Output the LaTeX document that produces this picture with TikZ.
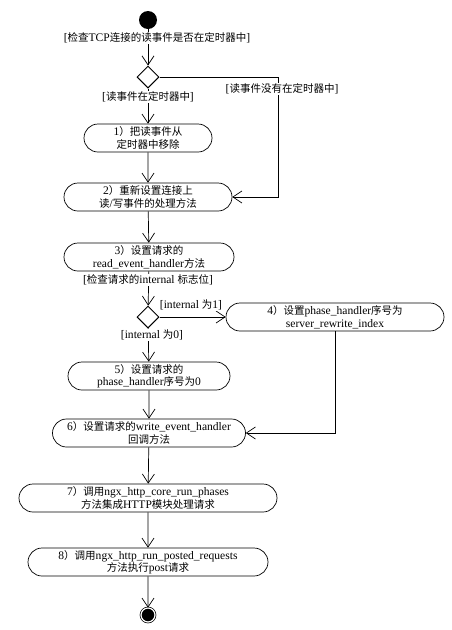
\documentclass[tikz,border=0pt]{standalone}
\usepackage{fontspec}
\setmainfont{Liberation Serif}[Scale=1.1]
\newfontfamily\zhfont{Noto Sans CJK SC}
\newcommand{\zh}[1]{{\zhfont #1}}
\usepackage{tikz}
\usetikzlibrary{shapes,positioning,calc,arrows.meta}

\begin{document}
\begin{tikzpicture}[x=1pt, y=-1pt,
        font=\fontsize{10.5}{12.5}\selectfont,
        act/.style={rounded rectangle, draw, line width=0.7pt, minimum height=28pt, inner sep=1pt, align=center},
        choice/.style={diamond, draw, line width=1pt, minimum width=22pt, minimum height=22pt, inner sep=0pt},
        guard/.style={fill=white, inner sep=1pt},
        flow/.style={-{Straight Barb[length=9pt,width=12pt]}, line width=0.7pt}]

        \useasboundingbox (0,0) rectangle (452,630);

        \node[circle, fill=black, minimum size=18pt, inner sep=0pt] (start) at (148,20) {};
        \node[choice] (timer check) at (148,77) {};
        \node[act, minimum width=130pt] (remove timer) at (148,138) {1\zh{）把读事件从}\\\zh{定时器中移除}};
        \node[act, minimum width=170pt] (reset handlers) at (148,197) {2\zh{）重新设置连接上}\\\zh{读}/\zh{写事件的处理方法}};
        \node[act, minimum width=172pt] (read handler) at (149,257) {3\zh{）设置请求的}\\read\_event\_handler\zh{方法}};
        \node[choice] (internal check) at (148,317) {};
        \node[act, minimum width=220pt] (rewrite index) at (335,317) {4\zh{）设置}phase\_handler\zh{序号为}\\server\_rewrite\_index};
        \node[act, minimum width=164pt] (phase zero) at (149,376) {5\zh{）设置请求的}\\phase\_handler\zh{序号为}0};
        \node[act, minimum width=195pt] (write handler) at (149,433) {6\zh{）设置请求的}write\_event\_handler\\\zh{回调方法}};
        \node[act, minimum width=260pt] (run phases) at (148,498) {7\zh{）调用}ngx\_http\_core\_run\_phases\\\zh{方法集成}HTTP\zh{模块处理请求}};
        \node[act, minimum width=242pt] (posted requests) at (148,562) {8\zh{）调用}ngx\_http\_run\_posted\_requests\\\zh{方法执行}post\zh{请求}};
        \node[circle, fill=black, draw, double=white, double distance=1.2pt, line width=0.7pt, minimum size=14pt, inner sep=0pt] (stop) at (148,615) {};

        \draw[flow] (start) -- (timer check);
        \draw[flow] (timer check) -- (remove timer);
        \draw[flow] (timer check.east) -- ++(119,0) |- (reset handlers.east);
        \draw[flow] (remove timer) -- (reset handlers);
        \draw[flow] (reset handlers) -- (read handler);
        \draw[flow] (read handler) -- (internal check);
        \draw[flow] (internal check.east) -- (rewrite index);
        \draw[flow] (internal check) -- (phase zero);
        \draw[flow] (rewrite index.south) |- (write handler.east);
        \draw[flow] (phase zero) -- (write handler);
        \draw[flow] (write handler) -- (run phases);
        \draw[flow] (run phases) -- (posted requests);
        \draw[flow] (posted requests) -- (stop);

        \node[guard] (tcp guard) at (157,38) {[\zh{检查}TCP\zh{连接的读事件是否在定时器中}]};
        \node[guard] (in timer) at (148,97) {[\zh{读事件在定时器中}]};
        \node[guard] (not in timer) at (282,89) {[\zh{读事件没有在定时器中}]};
        \node[guard] (internal guard) at (148,280) {[\zh{检查请求的}internal \zh{标志位}]};
        \node[guard] (internal one) at (191,305) {[internal \zh{为}1]};
        \node[guard] (internal zero) at (152,335) {[internal \zh{为}0]};

\end{tikzpicture}
\end{document}
